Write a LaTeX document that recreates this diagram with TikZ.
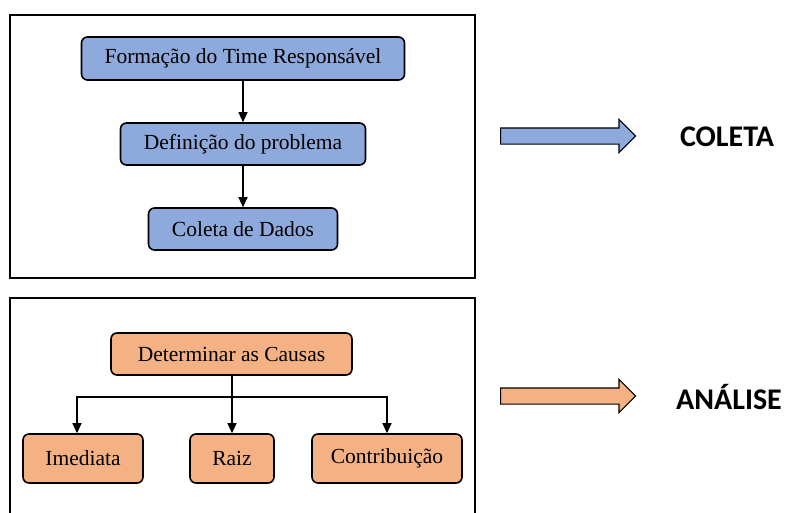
\documentclass[tikz,border=0pt]{standalone}
\usepackage{fontspec}
\setmainfont{Liberation Serif}
\newfontfamily\etapafont{Carlito}
\usetikzlibrary{arrows.meta,shapes.arrows}
\definecolor{azul}{HTML}{8EA9DB}
\definecolor{laranja}{HTML}{F4B183}
\tikzset{
	caixa/.style={draw, line width=1.6pt, rounded corners=6pt, inner sep=0pt, font=\fontsize{21.5}{24}\selectfont},
	seta/.style={-{Triangle[width=9pt,length=10pt]}, line width=1.2pt},
	bloco/.style={single arrow, draw, line width=1.2pt, anchor=tail, inner xsep=0pt, inner ysep=7.5pt, minimum width=32pt, minimum height=135pt, single arrow head extend=8.5pt, single arrow head indent=0pt},
}

\begin{document}
\begin{tikzpicture}[x=1pt,y=-1pt]
	\useasboundingbox (0,0) rectangle (785,512);
	\draw[line width=2pt] (10,15) rectangle (475,278);
	\draw[line width=2pt] (10,520) -- (10,298) -- (475,298) -- (475,520);

	\node[caixa, fill=azul, minimum width=323pt, minimum height=43pt] (c_1) at (243,58.5) {Formação do Time Responsável};
	\node[caixa, fill=azul, minimum width=245pt, minimum height=42pt] (c_2) at (243,144) {Definição do problema};
	\node[caixa, fill=azul, minimum width=189pt, minimum height=42pt] (c_3) at (243,229) {Coleta de Dados};

	\draw[seta] (c_1) -- (c_2);
	\draw[seta] (c_2) -- (c_3);

	\node[caixa, fill=laranja, minimum width=241pt, minimum height=42pt] (a_0) at (231.5,354) {Determinar as Causas};
	\node[caixa, fill=laranja, minimum width=120pt, minimum height=49pt] (a_1) at (83,458.5) {Imediata};
	\node[caixa, fill=laranja, minimum width=84pt, minimum height=49pt] (a_2) at (232,458.5) {Raiz};
	\node[caixa, fill=laranja, minimum width=150pt, minimum height=49pt] (a_3) at (387,458.5) {Contribuição};

	\coordinate (j) at (232,397);
	\draw[line width=1.2pt] (a_0.south -| j) -- (j);
	\draw[seta] (j) -- (a_2);
	\draw[seta] (j) -| ([xshift=-6pt]a_1.north);
	\draw[seta] (j) -| (a_3.north);

	\node[bloco, fill=azul] (b_1) at (500,136) {};
	\node[bloco, fill=laranja] (b_2) at (500,396) {};
	\node[font=\etapafont\bfseries\fontsize{30}{34}\selectfont] (t_1) at (727,137) {COLETA};
	\node[font=\etapafont\bfseries\fontsize{30}{34}\selectfont] (t_2) at (729,397) {ANÁLISE};
\end{tikzpicture}
\end{document}
